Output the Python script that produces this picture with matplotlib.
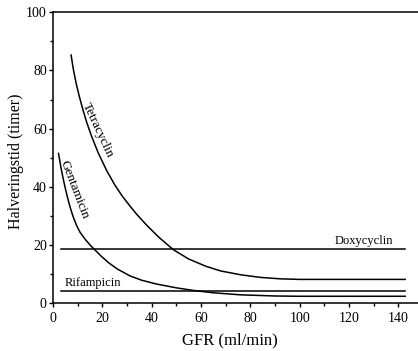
import numpy as np
import matplotlib
matplotlib.use('Agg')
import matplotlib.pyplot as plt
from matplotlib.ticker import MultipleLocator

plt.rcParams['font.family'] = ['Liberation Serif', 'DejaVu Serif']

# Values (GFR in ml/min, half-life in hours)
tetra_x = [7.3, 8.2, 9.3, 10.6, 12.0, 13.7, 15.7, 18.4, 21.8, 25, 28, 31, 34, 38,
           43, 48.8, 55, 62, 68, 76, 84, 92, 100, 142.8]
tetra_y = [85.3, 80.5, 75.8, 71.2, 66.8, 62.0, 57.2, 51.5, 45.5, 40.7, 36.9, 33.6, 30.5, 26.8,
           22.6, 18.4, 15.2, 12.7, 11.1, 9.8, 8.9, 8.4, 8.2, 8.2]

genta_x = [2.2, 3.2, 4.2, 5.2, 6.2, 7.2, 8.2, 9.6, 11, 13, 15, 17, 19.5, 22.4, 26,
           31.2, 36, 42, 50, 57, 65, 76, 90, 100, 142.8]
genta_y = [51.5, 46.6, 42.4, 38.6, 35.2, 32.2, 29.6, 26.6, 24.3, 22.0, 20.0, 18.3, 16.2, 14.0, 11.8,
           9.4, 7.9, 6.6, 5.3, 4.4, 3.6, 2.9, 2.5, 2.4, 2.4]

doxy_x = [3.2, 142.8]
doxy_y = [18.5, 18.5]

rifa_x = [3.2, 142.8]
rifa_y = [4.3, 4.3]

fig = plt.figure(figsize=(4.18, 3.51), dpi=100)
ax = fig.add_axes([0.127, 0.136, 0.873, 0.829])

lw = 1.1
for xs, ys in [(tetra_x, tetra_y), (genta_x, genta_y), (doxy_x, doxy_y), (rifa_x, rifa_y)]:
    ax.plot(xs, ys, color='black', lw=lw, solid_joinstyle='round')

# curve labels
ax.text(18.3, 59.6, 'Tetracyclin', rotation=-65, ha='center', va='center', fontsize=9.5)
ax.text(8.5, 38.9, 'Gentamicin', rotation=-69, ha='center', va='center', fontsize=9.5)
ax.text(138.0, 19.4, 'Doxycyclin', ha='right', va='bottom', fontsize=9)
ax.text(4.8, 5.0, 'Rifampicin', ha='left', va='bottom', fontsize=9)

ax.set_xlim(0, 148)
ax.set_ylim(0, 100)
ax.xaxis.set_major_locator(MultipleLocator(20))
ax.xaxis.set_minor_locator(MultipleLocator(10))
ax.yaxis.set_major_locator(MultipleLocator(20))
ax.yaxis.set_minor_locator(MultipleLocator(10))
ax.tick_params(which='major', length=3, width=1, labelsize=10)
ax.tick_params(which='minor', length=2, width=1)
ax.tick_params(axis='y', which='major', pad=1.5)

ax.spines['right'].set_visible(False)
for s in ['left', 'top', 'bottom']:
    ax.spines[s].set_linewidth(1.1)

ax.set_xlabel('GFR (ml/min)', fontsize=12)
ax.set_ylabel('Halveringstid (timer)', fontsize=11.5)
ax.xaxis.set_label_coords(0.485, -0.1)
ax.yaxis.set_label_coords(-0.08, 0.487)

fig.savefig('out.png', dpi=100)
